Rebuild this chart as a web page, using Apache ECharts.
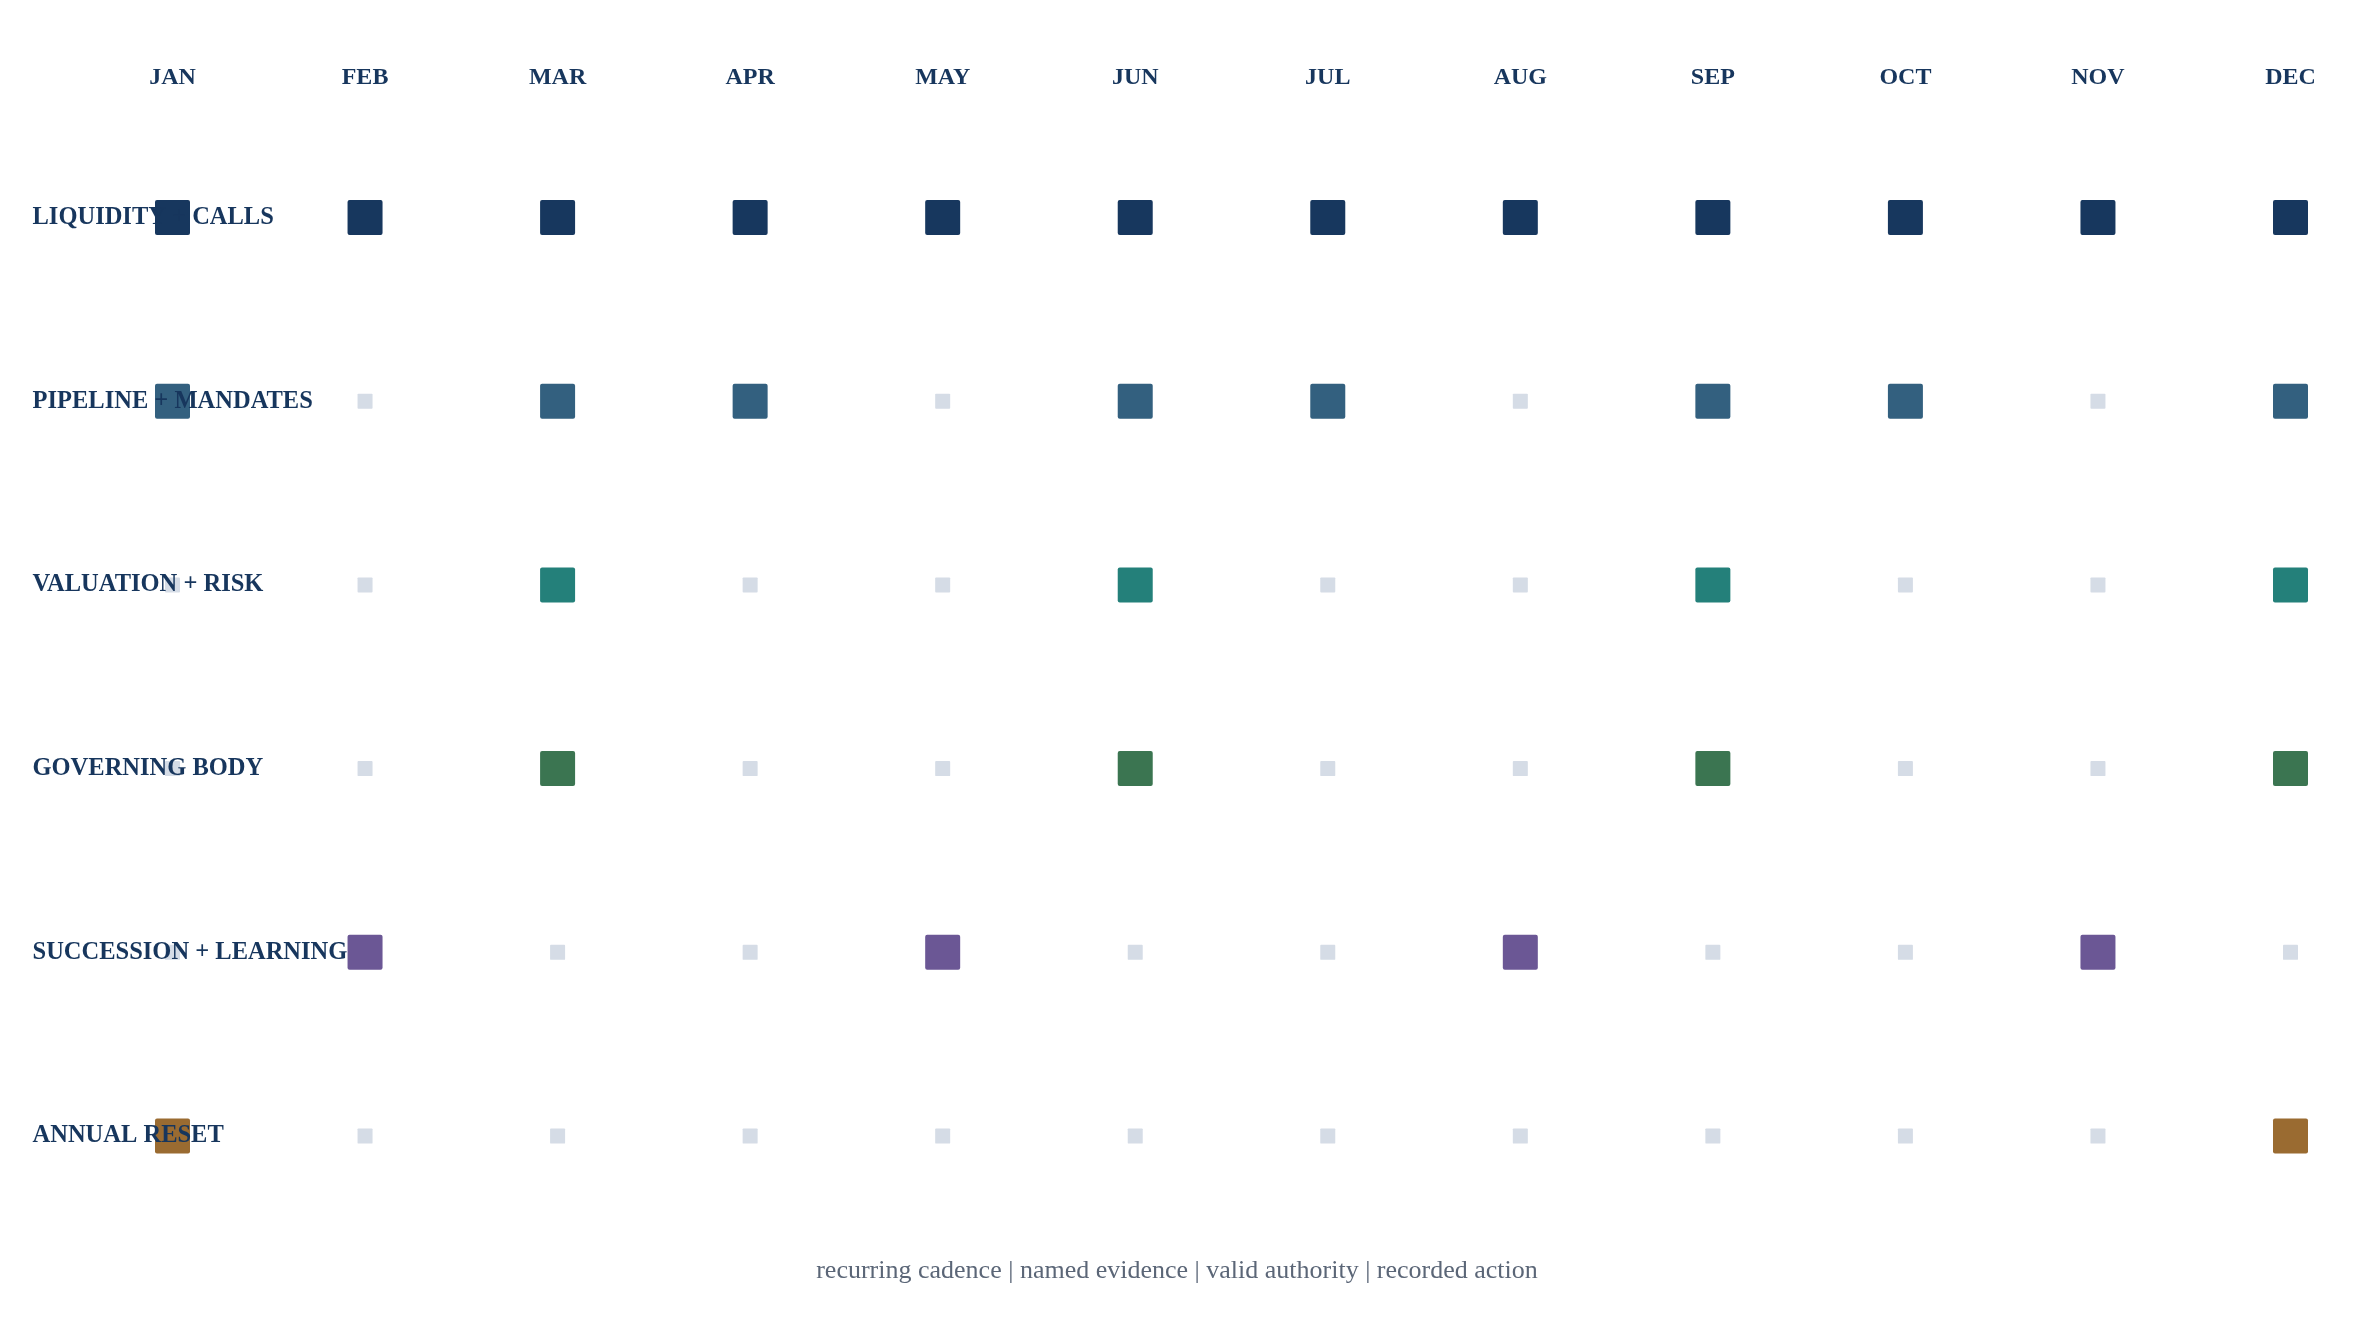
<!DOCTYPE html>
<html lang="en">

<head>
    <meta charset="UTF-8">
    <title>Governance cadence</title>
    <script src="https://cdn.jsdelivr.net/npm/echarts@6/dist/echarts.min.js"></script>
    <style>
        body,
        html {
            padding: 0;
            margin: 0;
            background: #fff;
        }
    </style>
</head>

<body>
    <div style="width:2354px;height:1342px;" id='chart'></div>
    <script>
        var months = ['JAN', 'FEB', 'MAR', 'APR', 'MAY', 'JUN', 'JUL', 'AUG', 'SEP', 'OCT', 'NOV', 'DEC'];
        var tracks = ['LIQUIDITY + CALLS', 'PIPELINE + MANDATES', 'VALUATION + RISK',
            'GOVERNING BODY', 'SUCCESSION + LEARNING', 'ANNUAL RESET'];

        // 1 = scheduled review in that month, 0 = no review
        var liquidity = [1, 1, 1, 1, 1, 1, 1, 1, 1, 1, 1, 1];
        var pipeline = [1, 0, 1, 1, 0, 1, 1, 0, 1, 1, 0, 1];
        var valuation = [0, 0, 1, 0, 0, 1, 0, 0, 1, 0, 0, 1];
        var governing = [0, 0, 1, 0, 0, 1, 0, 0, 1, 0, 0, 1];
        var succession = [0, 1, 0, 0, 1, 0, 0, 1, 0, 0, 1, 0];
        var annual = [1, 0, 0, 0, 0, 0, 0, 0, 0, 0, 0, 1];

        var footer = 'recurring cadence | named evidence | valid authority | recorded action';

        var rows = [liquidity, pipeline, valuation, governing, succession, annual];
        var colors = ['#17375e', '#33607f', '#24807a', '#3b7551', '#6b5795', '#9a6b31'];
        var offColor = '#d5dce6';
        var navy = '#17365d';
        var serif = '"Liberation Serif", "Times New Roman", serif';
        var box = 'path://M2,0H33Q35,0 35,2V33Q35,35 33,35H2Q0,35 0,33V2Q0,0 2,0Z';

        var myChart = echarts.init(document.getElementById('chart'));

        var series = rows.map(function (flags, r) {
            return {
                type: 'scatter',
                z: 2,
                silent: true,
                symbol: box,
                symbolSize: function (val) {
                    return val[2] ? 35 : 15;
                },
                itemStyle: {
                    opacity: 1,
                    color: function (p) {
                        return p.value[2] ? colors[r] : offColor;
                    }
                },
                data: flags.map(function (f, m) {
                    return [m, r, f];
                })
            };
        });

        myChart.setOption({
            animation: false,
            title: {
                text: footer,
                left: 'center',
                top: 1253,
                textStyle: {
                    fontFamily: serif,
                    fontSize: 26,
                    fontWeight: 'normal',
                    color: '#5b6677'
                }
            },
            grid: {
                left: 172.5,
                right: 63.5,
                top: 217.5,
                bottom: 206
            },
            xAxis: {
                type: 'category',
                position: 'top',
                data: months,
                boundaryGap: false,
                axisLine: { show: false },
                axisTick: { show: false },
                splitLine: { show: false },
                axisLabel: {
                    margin: 128,
                    fontFamily: serif,
                    fontSize: 24,
                    fontWeight: 'bold',
                    color: navy
                }
            },
            yAxis: {
                type: 'category',
                data: tracks,
                inverse: true,
                boundaryGap: false,
                z: 10,
                axisLine: { show: false },
                axisTick: { show: false },
                splitLine: { show: false },
                axisLabel: {
                    align: 'left',
                    margin: 140,
                    fontFamily: serif,
                    fontSize: 24.5,
                    fontWeight: 'bold',
                    color: navy
                }
            },
            series: series
        });
    </script>
</body>

</html>
